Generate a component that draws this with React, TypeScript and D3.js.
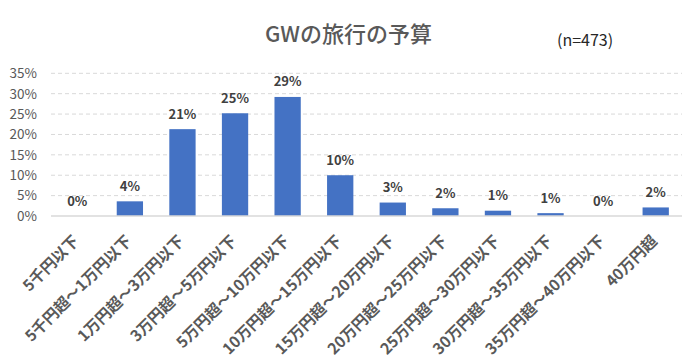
import React from "react";
import * as d3 from "d3";

const categories = [
  "5千円以下",
  "5千円超～1万円以下",
  "1万円超～3万円以下",
  "3万円超～5万円以下",
  "5万円超～10万円以下",
  "10万円超～15万円以下",
  "15万円超～20万円以下",
  "20万円超～25万円以下",
  "25万円超～30万円以下",
  "30万円超～35万円以下",
  "35万円超～40万円以下",
  "40万円超",
];
const values = [0.0, 3.6, 21.3, 25.2, 29.2, 10.0, 3.3, 1.9, 1.3, 0.7, 0.0, 2.1];
const dataLabels = ["0%", "4%", "21%", "25%", "29%", "10%", "3%", "2%", "1%", "1%", "0%", "2%"];
const yTicks = [0, 5, 10, 15, 20, 25, 30, 35];
const title = "GWの旅行の予算";
const note = "(n=473)";

const W = 700;
const H = 363;
const FONT = "'Noto Sans CJK JP', 'Noto Sans', sans-serif";

export default function App() {
  const x = d3.scaleBand<string>().domain(categories).range([51, 682]).paddingInner(0.5).paddingOuter(0.25);
  const y = d3.scaleLinear().domain([0, 35]).range([216, 73.3]);
  return (
    <svg width={W} height={H} style={{ position: "absolute", left: 0, top: 0, background: "#fff" }}>
      <rect x={0} y={0} width={W} height={H} fill="#fff" />
      <text x={348.5} y={42} textAnchor="middle" fontFamily={FONT} fontSize={22} fontWeight={500} fill="#595959">
        {title}
      </text>
      <text x={557} y={46} fontFamily={FONT} fontSize={16} fill="#262626">
        {note}
      </text>
      {yTicks.map((t) => (
        <g key={t}>
          {t > 0 && (
            <line x1={51} x2={682} y1={y(t)} y2={y(t)} stroke="#d9d9d9" strokeWidth={1} strokeDasharray="4,3" />
          )}
          <text x={37} y={y(t)} dy="0.36em" textAnchor="end" fontFamily={FONT} fontSize={13.5} fill="#595959">
            {t}%
          </text>
        </g>
      ))}
      {categories.map((c, i) => (
        <g key={c}>
          {values[i] > 0 && (
            <rect x={x(c)} y={y(values[i])} width={x.bandwidth()} height={y(0) - y(values[i])} fill="#4472c4" />
          )}
          <text
            x={(x(c) as number) + x.bandwidth() / 2}
            y={y(values[i]) - 10.5}
            textAnchor="middle"
            fontFamily={FONT}
            fontSize={13}
            fontWeight="bold"
            fill="#404040"
          >
            {dataLabels[i]}
          </text>
          <text
            transform={`translate(${(x(c) as number) + x.bandwidth() / 2 + 2.5},${242}) rotate(-45)`}
            textAnchor="end"
            fontFamily={FONT}
            fontSize={15.5}
            fontWeight="bold"
            fill="#595959"
          >
            {c}
          </text>
        </g>
      ))}
      <line x1={51} x2={682} y1={y(0)} y2={y(0)} stroke="#d9d9d9" strokeWidth={1.5} />
    </svg>
  );
}
